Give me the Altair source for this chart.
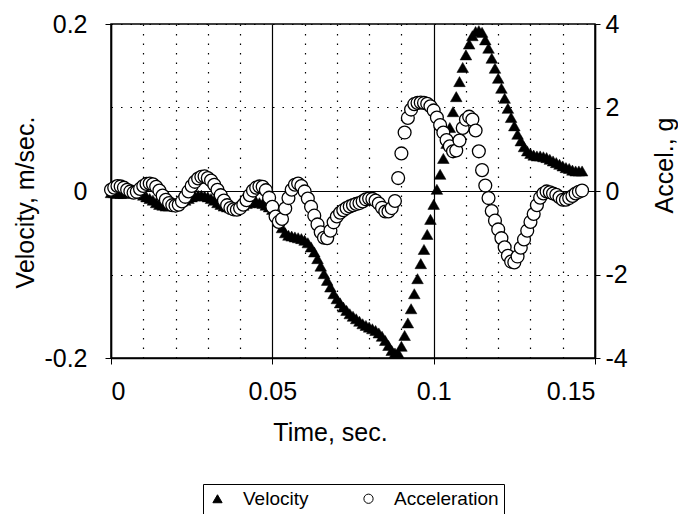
import altair as alt
import pandas as pd

# ---- data ----
time_s = [
    0.000, 0.001, 0.002, 0.003, 0.004, 0.005, 0.006, 0.007, 0.008, 0.009,
    0.010, 0.011, 0.012, 0.013, 0.014, 0.015, 0.016, 0.017, 0.018, 0.019,
    0.020, 0.021, 0.022, 0.023, 0.024, 0.025, 0.026, 0.027, 0.028, 0.029,
    0.030, 0.031, 0.032, 0.033, 0.034, 0.035, 0.036, 0.037, 0.038, 0.039,
    0.040, 0.041, 0.042, 0.043, 0.044, 0.045, 0.046, 0.047, 0.048, 0.049,
    0.050, 0.051, 0.052, 0.053, 0.054, 0.055, 0.056, 0.057, 0.058, 0.059,
    0.060, 0.061, 0.062, 0.063, 0.064, 0.065, 0.066, 0.067, 0.068, 0.069,
    0.070, 0.071, 0.072, 0.073, 0.074, 0.075, 0.076, 0.077, 0.078, 0.079,
    0.080, 0.081, 0.082, 0.083, 0.084, 0.085, 0.086, 0.087, 0.088, 0.089,
    0.090, 0.091, 0.092, 0.093, 0.094, 0.095, 0.096, 0.097, 0.098, 0.099,
    0.100, 0.101, 0.102, 0.103, 0.104, 0.105, 0.106, 0.107, 0.108, 0.109,
    0.110, 0.111, 0.112, 0.113, 0.114, 0.115, 0.116, 0.117, 0.118, 0.119,
    0.120, 0.121, 0.122, 0.123, 0.124, 0.125, 0.126, 0.127, 0.128, 0.129,
    0.130, 0.131, 0.132, 0.133, 0.134, 0.135, 0.136, 0.137, 0.138, 0.139,
    0.140, 0.141, 0.142, 0.143, 0.144, 0.145, 0.146,
]

velocity = [
    -0.002, -0.002, -0.003, -0.003, -0.003, -0.002, -0.001, -0.001, -0.002, -0.003,
    -0.005, -0.007, -0.009, -0.011, -0.014, -0.016, -0.017, -0.018, -0.018, -0.017,
    -0.016, -0.014, -0.012, -0.011, -0.009, -0.007, -0.006, -0.005, -0.005, -0.006,
    -0.007, -0.009, -0.011, -0.014, -0.016, -0.018, -0.019, -0.020, -0.020, -0.019,
    -0.018, -0.017, -0.015, -0.014, -0.013, -0.013, -0.014, -0.015, -0.017, -0.019,
    -0.022, -0.028, -0.036, -0.044, -0.050, -0.053, -0.054, -0.055, -0.056, -0.057,
    -0.059, -0.062, -0.067, -0.073, -0.081, -0.090, -0.099, -0.107, -0.115, -0.123,
    -0.129, -0.134, -0.139, -0.143, -0.147, -0.150, -0.153, -0.156, -0.159, -0.161,
    -0.163, -0.165, -0.167, -0.170, -0.174, -0.179, -0.185, -0.191, -0.194, -0.194,
    -0.186, -0.173, -0.158, -0.141, -0.123, -0.105, -0.087, -0.070, -0.052, -0.034,
    -0.016, 0.002, 0.020, 0.039, 0.057, 0.076, 0.095, 0.113, 0.131, 0.148,
    0.163, 0.176, 0.186, 0.191, 0.192, 0.190, 0.181, 0.171, 0.159, 0.147,
    0.135, 0.123, 0.111, 0.099, 0.088, 0.078, 0.068, 0.060, 0.053, 0.048,
    0.045, 0.043, 0.042, 0.042, 0.041, 0.040, 0.038, 0.036, 0.034, 0.032,
    0.030, 0.028, 0.027, 0.025, 0.024, 0.024, 0.024,
]

acceleration = [
    0.03, 0.08, 0.12, 0.11, 0.08, 0.03, -0.01, -0.04, -0.02, 0.05,
    0.12, 0.17, 0.18, 0.16, 0.10, 0.01, -0.11, -0.21, -0.29, -0.34,
    -0.35, -0.33, -0.25, -0.14, -0.01, 0.12, 0.22, 0.30, 0.34, 0.35,
    0.31, 0.25, 0.15, 0.03, -0.10, -0.23, -0.34, -0.41, -0.44, -0.45,
    -0.41, -0.33, -0.22, -0.10, 0.01, 0.08, 0.11, 0.10, 0.02, -0.16,
    -0.38, -0.61, -0.74, -0.67, -0.42, -0.17, 0.03, 0.15, 0.18, 0.12,
    -0.01, -0.18, -0.38, -0.59, -0.80, -0.99, -1.12, -1.13, -0.95, -0.75,
    -0.61, -0.52, -0.46, -0.41, -0.37, -0.34, -0.31, -0.29, -0.25, -0.20,
    -0.18, -0.19, -0.23, -0.30, -0.40, -0.49, -0.49, -0.41, -0.24, 0.31,
    0.90, 1.40, 1.75, 1.95, 2.08, 2.11, 2.12, 2.11, 2.09, 2.03,
    1.93, 1.76, 1.58, 1.40, 1.22, 1.07, 0.95, 0.97, 1.21, 1.51,
    1.71, 1.78, 1.71, 1.45, 0.95, 0.50, 0.13, -0.17, -0.48, -0.71,
    -0.92, -1.13, -1.35, -1.55, -1.69, -1.71, -1.57, -1.36, -1.16, -0.95,
    -0.74, -0.55, -0.34, -0.16, -0.06, -0.01, -0.03, -0.06, -0.09, -0.15,
    -0.21, -0.21, -0.17, -0.12, -0.06, -0.02, 0.01,
]

series_names = ["Velocity", "Acceleration"]
x_grid_values = [0, 0.01, 0.02, 0.03, 0.04, 0.05, 0.06, 0.07, 0.08, 0.09,
                 0.1, 0.11, 0.12, 0.13, 0.14, 0.15]
v_axis_values = [-0.2, -0.1, 0, 0.1, 0.2]
a_axis_values = [-4, -2, 0, 2, 4]

rows = []
for t, v in zip(time_s, velocity):
    rows.append({"time": t, "value": v, "series": "Velocity"})
for t, a in zip(time_s, acceleration):
    rows.append({"time": t, "value": a, "series": "Acceleration"})
df = pd.DataFrame(rows)

FONT = "Liberation Sans"
DOT = [1.5, 8]

legend = alt.Legend(
    title=None, orient="none", legendX=92, legendY=460,
    direction="horizontal", strokeColor="black", fillColor="white",
    padding=5, labelFont=FONT, labelFontSize=19, labelColor="black",
    symbolSize=85, symbolStrokeWidth=1,
    columnPadding=50, labelOffset=16, cornerRadius=0,
)

shape = alt.Shape("series:N",
                  scale=alt.Scale(domain=series_names, range=["triangle-up", "circle"]),
                  legend=legend)
fill = alt.Fill("series:N",
                scale=alt.Scale(domain=series_names, range=["black", "white"]),
                legend=legend)
stroke = alt.Stroke("series:N",
                    scale=alt.Scale(domain=series_names, range=["black", "black"]),
                    legend=legend)

x_major = "round(datum.value*100) % 5 == 0"
x_enc = alt.X(
    "time:Q",
    scale=alt.Scale(domain=[0, 0.15], nice=False, zero=False),
    axis=alt.Axis(
        values=x_grid_values, title="Time, sec.",
        labelExpr=f"{x_major} ? format(datum.value, '~g') : ''",
        grid=True, gridColor="black", gridWidth=1.2,
        gridDash={"condition": {"test": x_major, "value": [1, 0]}, "value": DOT},
        tickOpacity={"condition": {"test": x_major, "value": 1}, "value": 0},
        tickSize=6, tickColor="black", labelPadding=15,
        labelFontSize=25, titleFontSize=25,
        titleX=219, titleY=74, titleBaseline="middle", titleAlign="center",
        domainColor="black", domainWidth=1.5,
    ),
)

v_major = "round(datum.value*10) % 2 == 0"
y_vel = alt.Y(
    "value:Q",
    scale=alt.Scale(domain=[-0.2, 0.2], nice=False, zero=False),
    axis=alt.Axis(
        values=v_axis_values, title="Velocity, m/sec.", orient="left",
        labelExpr=f"{v_major} ? (datum.value < 0 ? '-' + format(-datum.value, '~g') : format(datum.value, '~g')) : ''",
        grid=True, gridColor="black", gridWidth=1.2,
        gridDash={"condition": {"test": "datum.value == 0", "value": [1, 0]}, "value": DOT},
        tickOpacity={"condition": {"test": v_major, "value": 1}, "value": 0},
        tickSize=6, tickColor="black", labelPadding=18,
        labelFontSize=25, titleFontSize=25,
        titleAngle=270, titleX=-86, titleY=178, titleBaseline="middle", titleAlign="center",
        domainColor="black", domainWidth=1.5,
    ),
)

y_acc = alt.Y(
    "value:Q",
    scale=alt.Scale(domain=[-4, 4], nice=False, zero=False),
    axis=alt.Axis(
        values=a_axis_values, title="Accel., g", orient="right",
        labelExpr="datum.value < 0 ? '-' + format(-datum.value, '~g') : format(datum.value, '~g')",
        grid=False, tickSize=5, tickColor="black", labelPadding=5,
        labelFontSize=25, titleFontSize=25,
        titleAngle=270, titleX=69, titleY=141, titleBaseline="middle", titleAlign="center",
        domainColor="black", domainWidth=1.5,
    ),
)

base = alt.Chart(df)

vel_layer = base.transform_filter(alt.datum.series == "Velocity").mark_point(
    filled=True, size=135, strokeWidth=0.5, opacity=1
).encode(x=x_enc, y=y_vel, shape=shape, fill=fill, stroke=stroke)

acc_layer = base.transform_filter(alt.datum.series == "Acceleration").mark_point(
    filled=True, size=165, strokeWidth=1.3, opacity=1
).encode(x=x_enc, y=y_acc, shape=shape, fill=fill, stroke=stroke)

chart = alt.layer(vel_layer, acc_layer).resolve_scale(y="independent").properties(
    width=484, height=334,
    autosize=alt.AutoSizeParams(type="none"),
    padding={"left": 103, "top": 16, "right": 83, "bottom": 156},
    background="white",
).configure_view(
    stroke="black", strokeWidth=1.5
).configure_axis(
    labelFont=FONT, titleFont=FONT, labelColor="black", titleColor="black",
    titleFontWeight="normal",
)

chart.save("out.html", embed_options={"renderer": "svg", "actions": False})
